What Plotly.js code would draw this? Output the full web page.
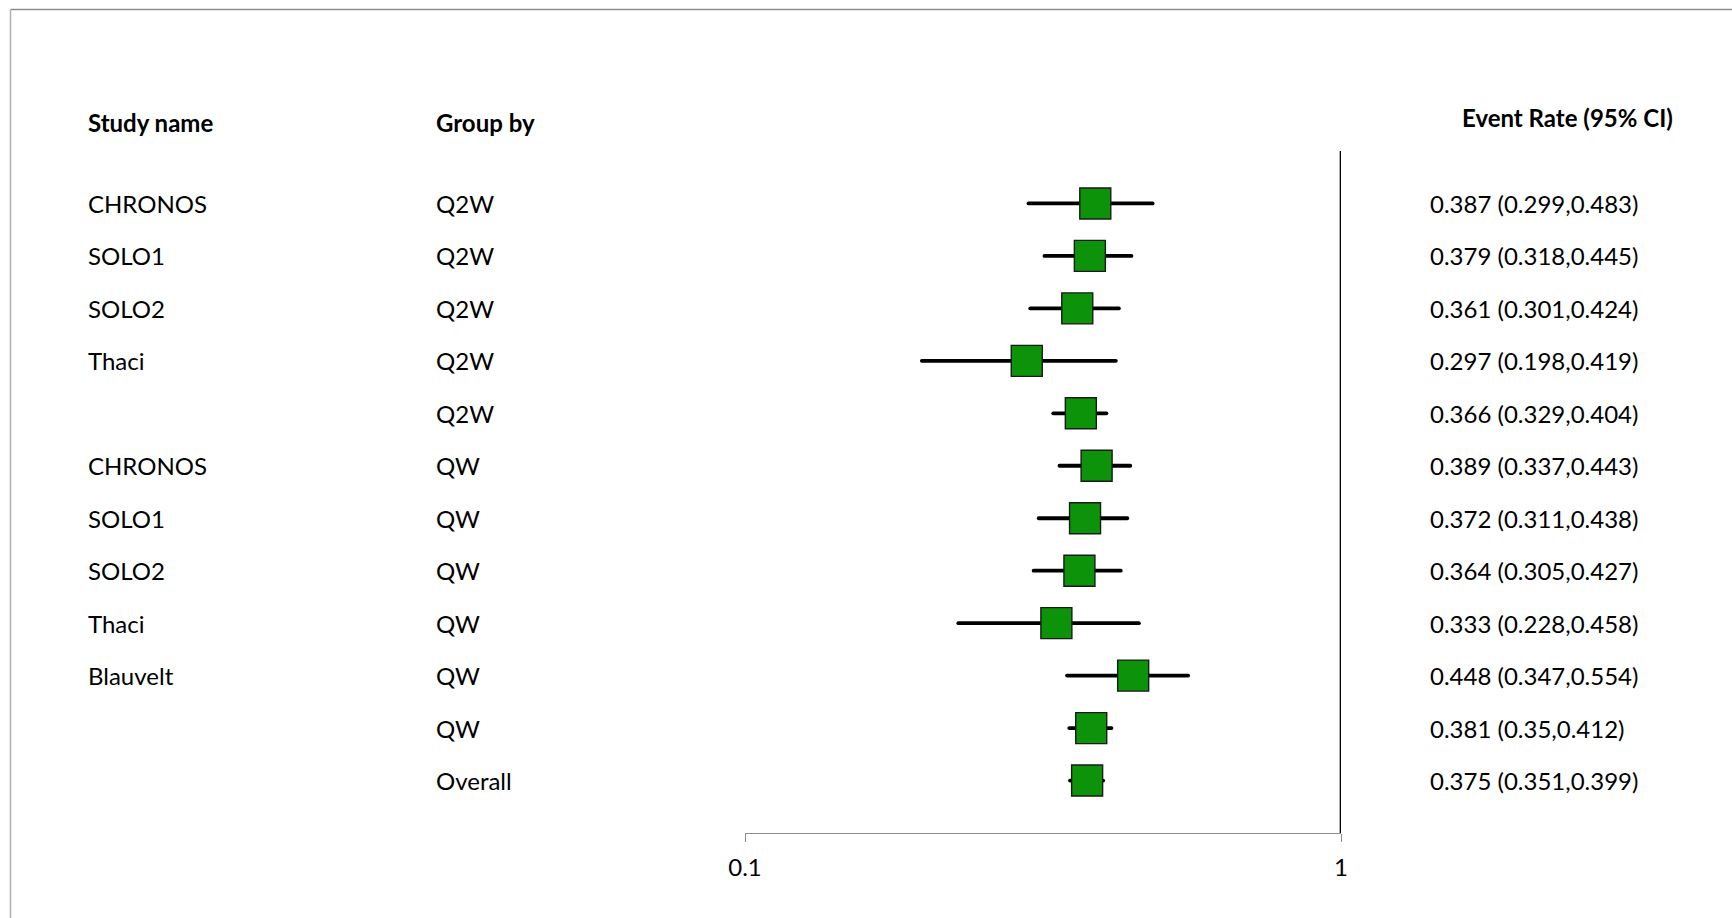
<!DOCTYPE html>
<html>
<head>
<meta charset="utf-8">
<script src="https://cdn.plot.ly/plotly-3.0.1.min.js"></script>
<style>
html,body{margin:0;padding:0;background:#fff;}
#chart{width:1732px;height:918px;}
.scatterlayer .js-line{stroke-linecap:round;}
</style>
</head>
<body>
<div id="chart"></div>
<script>
// ---- data ----
var studyNames = ["CHRONOS","SOLO1","SOLO2","Thaci","","CHRONOS","SOLO1","SOLO2","Thaci","Blauvelt","",""];
var groupBy = ["Q2W","Q2W","Q2W","Q2W","Q2W","QW","QW","QW","QW","QW","QW","Overall"];
var eventRate = [0.387,0.379,0.361,0.297,0.366,0.389,0.372,0.364,0.333,0.448,0.381,0.375];
var lowerCI = [0.299,0.318,0.301,0.198,0.329,0.337,0.311,0.305,0.228,0.347,0.35,0.351];
var upperCI = [0.483,0.445,0.424,0.419,0.404,0.443,0.438,0.427,0.458,0.554,0.412,0.399];
var tickVals = [0.1, 1];
var tickText = ["0.1", "1"];
var headers = ["Study name", "Group by", "Event Rate (95% CI)"];

// ---- layout geometry ----
var W = 1732, H = 918;
var L = 745, R = 391, T = 151, B = 85;
var pw = W - L - R, ph = H - T - B;
function px2x(px){ return (px - L) / pw; }
function py2y(py){ return (H - B - py) / ph; }

var rows = eventRate.map(function(_, i){ return i; });

// CI segments
var ciX = [], ciY = [];
for (var i = 0; i < rows.length; i++) {
  ciX.push(lowerCI[i], upperCI[i], null);
  ciY.push(rows[i], rows[i], null);
}

var font = "Lato, 'Open Sans', sans-serif";
var fs = 24;

var traces = [
  {
    x: ciX, y: ciY, type: "scatter", mode: "lines",
    line: {color: "#000", width: 3.8},
    hoverinfo: "skip", showlegend: false
  },
  {
    x: eventRate, y: rows, type: "scatter", mode: "markers",
    marker: {symbol: "square", size: 31, color: "#0C930A", line: {color: "#1a1a1a", width: 1.4}},
    showlegend: false
  }
];

var annotations = [];
function addText(text, x, y, yref, anchor, bold) {
  annotations.push({
    text: bold ? "<b>" + text + "</b>" : text,
    x: x, y: y, xref: "paper", yref: yref,
    xanchor: anchor, yanchor: "middle", showarrow: false,
    font: {family: font, size: fs, color: "#000"}
  });
}
for (var j = 0; j < rows.length; j++) {
  if (studyNames[j]) addText(studyNames[j], px2x(86), rows[j], "y", "left", false);
  addText(groupBy[j], px2x(434), rows[j], "y", "left", false);
  addText(eventRate[j] + " (" + lowerCI[j] + "," + upperCI[j] + ")", px2x(1428), rows[j], "y", "left", false);
}
addText(headers[0], px2x(86), py2y(122), "paper", "left", true);
addText(headers[1], px2x(434), py2y(122), "paper", "left", true);
addText(headers[2], px2x(1675), py2y(117), "paper", "right", true);

var shapes = [
  // reference line at 1
  {type: "line", xref: "x", yref: "paper", x0: 1, x1: 1, y0: 0, y1: 1,
   line: {color: "#000", width: 2.6}},
  // frame (top and left)
  {type: "line", xref: "paper", yref: "paper", x0: px2x(10.5), x1: px2x(1732), y0: py2y(9.5), y1: py2y(9.5),
   line: {color: "#8c8c8c", width: 1.5}},
  {type: "line", xref: "paper", yref: "paper", x0: px2x(10.5), x1: px2x(10.5), y0: py2y(9.5), y1: py2y(918),
   line: {color: "#b0b0b0", width: 1.5}}
];

var layout = {
  width: W, height: H,
  margin: {l: L, r: R, t: T, b: B, pad: 0},
  paper_bgcolor: "#fff", plot_bgcolor: "#fff",
  showlegend: false,
  font: {family: font, size: fs, color: "#000"},
  xaxis: {
    type: "log", range: [-1, 0], fixedrange: true,
    tickmode: "array", tickvals: tickVals, ticktext: tickText,
    showgrid: false, zeroline: false,
    showline: true, linecolor: "#8c8c8c", linewidth: 1,
    ticks: "outside", ticklen: 8, tickcolor: "#8c8c8c", tickwidth: 1,
    ticklabelstandoff: 5,
    tickfont: {family: font, size: fs, color: "#000"}
  },
  yaxis: {
    range: [12, -1], fixedrange: true,
    showgrid: false, zeroline: false, showline: false, showticklabels: false, ticks: ""
  },
  shapes: shapes,
  annotations: annotations
};

Plotly.newPlot("chart", traces, layout, {displayModeBar: false, staticPlot: true});
</script>
</body>
</html>
